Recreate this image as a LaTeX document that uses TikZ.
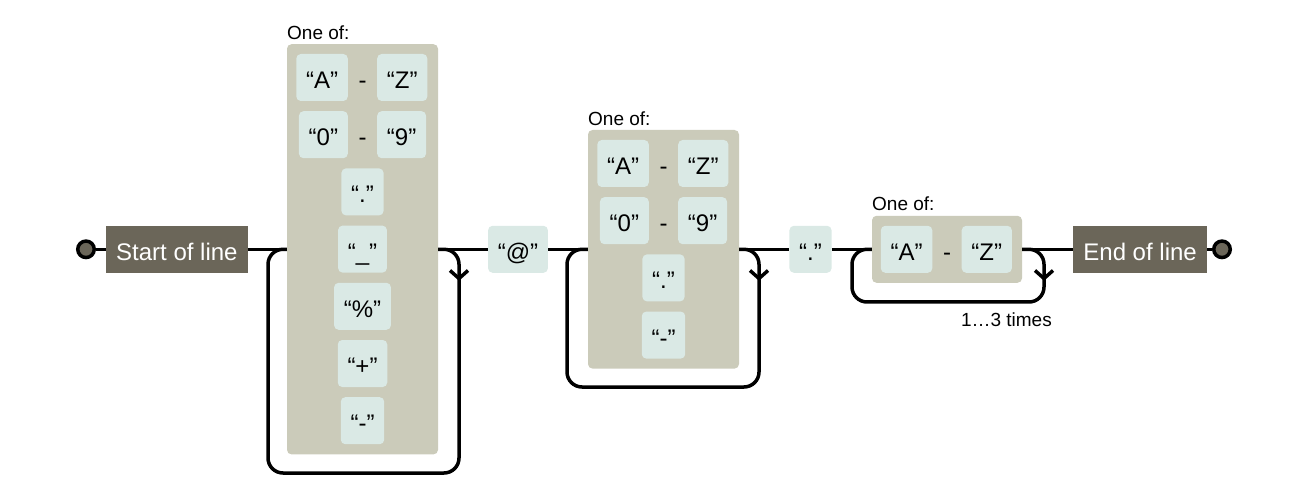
\documentclass[tikz,border=0pt]{standalone}
\usepackage{fontspec}
\setmainfont{Liberation Sans}
\definecolor{anc}{HTML}{6B6659}
\definecolor{litc}{HTML}{DAE9E5}
\definecolor{cset}{HTML}{CBCBBA}
\tikzset{
  conn/.style={line width=3.5pt, black},
  litbox/.style={fill=litc, rounded corners=4.5pt, inner xsep=9.75pt, inner ysep=0pt,
    minimum height=47pt, text height=22pt, text depth=0pt, font=\fontsize{24}{28}\selectfont},
  ancbox/.style={fill=anc, text=white, inner xsep=10pt, inner ysep=0pt,
    minimum height=47pt, text height=22pt, text depth=0pt, font=\fontsize{24}{28}\selectfont},
  setbox/.style={fill=cset, rounded corners=4.5pt, inner sep=0pt},
  rangedash/.style={inner sep=0pt, text height=22pt, text depth=0pt, font=\fontsize{24}{28}\selectfont},
  endpt/.style={circle, draw=black, fill=anc, line width=3.5pt, minimum size=16.5pt, inner sep=0pt},
  lbl/.style={font=\fontsize{19}{22}\selectfont, inner sep=0pt},
}
\begin{document}
\begin{tikzpicture}[x=1pt,y=-1pt]
\useasboundingbox (0,0) rectangle (1316,502);
\def\yo{249.3}
% charset boxes
\node[setbox, minimum width=151pt, minimum height=410.2pt] (g1) at (362.5,\yo) {};
\node[setbox, minimum width=151pt, minimum height=238.6pt] (g2) at (663.5,\yo) {};
\node[setbox, minimum width=150pt, minimum height=67pt] (g3) at (947,\yo) {};
% labels
\node[lbl, anchor=base west] (g1lbl) at (287,40) {One of:};
\node[lbl, anchor=base west] (g2lbl) at (588,126) {One of:};
\node[lbl, anchor=base west] (g3lbl) at (872,211) {One of:};
\node[lbl, anchor=base east] (g3rep) at (1052,326.5) {1…3 times};
% group 1 items
\node[litbox, anchor=east] (g1a) at (348,77.5) {“A”};
\node[rangedash] (g1d1) at (362.5,77.5) {-};
\node[litbox, anchor=west] (g1z) at (377,77.5) {“Z”};
\node[litbox, anchor=east] (g1n0) at (348,134.7) {“0”};
\node[rangedash] (g1d2) at (362.5,134.7) {-};
\node[litbox, anchor=west] (g1n9) at (377,134.7) {“9”};
\node[litbox] (g1dot) at (362.5,191.9) {“.”};
\node[litbox] (g1us) at (362.5,249.1) {“\_”};
\node[litbox] (g1pc) at (362.5,306.3) {“\%”};
\node[litbox] (g1pl) at (362.5,363.5) {“+”};
\node[litbox] (g1mi) at (362.5,420.7) {“-”};
% group 2 items
\node[litbox, anchor=east] (g2a) at (649,163.5) {“A”};
\node[rangedash] (g2d1) at (663.5,163.5) {-};
\node[litbox, anchor=west] (g2z) at (678,163.5) {“Z”};
\node[litbox, anchor=east] (g2n0) at (649,220.7) {“0”};
\node[rangedash] (g2d2) at (663.5,220.7) {-};
\node[litbox, anchor=west] (g2n9) at (678,220.7) {“9”};
\node[litbox] (g2dot) at (663.5,277.9) {“.”};
\node[litbox] (g2mi) at (663.5,335.1) {“-”};
% group 3 items
\node[litbox, anchor=east] (g3a) at (932.5,\yo) {“A”};
\node[rangedash] (g3d1) at (947,\yo) {-};
\node[litbox, anchor=west] (g3z) at (961.5,\yo) {“Z”};
% main sequence
\node[endpt] (sc) at (86,\yo) {};
\node[ancbox, anchor=west] (sb) at (106,\yo) {Start of line};
\node[litbox] (at) at (518,\yo) {“@”};
\node[litbox] (dot) at (810.5,\yo) {“.”};
\node[ancbox, anchor=east] (eb) at (1207,\yo) {End of line};
\node[endpt] (ec) at (1222,\yo) {};
% connectors
\draw[conn] (sc) -- (sb);
\draw[conn] (sb.east) -- (g1.west);
\draw[conn] (g1.east) -- (at.west);
\draw[conn] (at.east) -- (g2.west);
\draw[conn] (g2.east) -- (dot.west);
\draw[conn] (dot.east) -- (g3.west);
\draw[conn] (g3.east) -- (eb.west);
\draw[conn] (eb) -- (ec);
% loops
\coordinate (l1b) at (459,473);
\coordinate (l1t) at (268,\yo);
\coordinate (l2b) at (759,387);
\coordinate (l2t) at (567,\yo);
\coordinate (l3b) at (1044,302);
\coordinate (l3t) at (852,\yo);
\draw[conn, rounded corners=15pt] (g1.east) -| (l1b) -| (l1t) -- (g1.west);
\draw[conn, rounded corners=15pt] (g2.east) -| (l2b) -| (l2t) -- (g2.west);
\draw[conn, rounded corners=15pt] (g3.east) -| (l3b) -| (l3t) -- (g3.west);
% arrows on loops
\draw[conn] (450,270.5) -- (459,278.5) -- (468,270.5);
\draw[conn] (750,270.5) -- (759,278.5) -- (768,270.5);
\draw[conn] (1035,270.5) -- (1044,278.5) -- (1053,270.5);
\end{tikzpicture}
\end{document}
